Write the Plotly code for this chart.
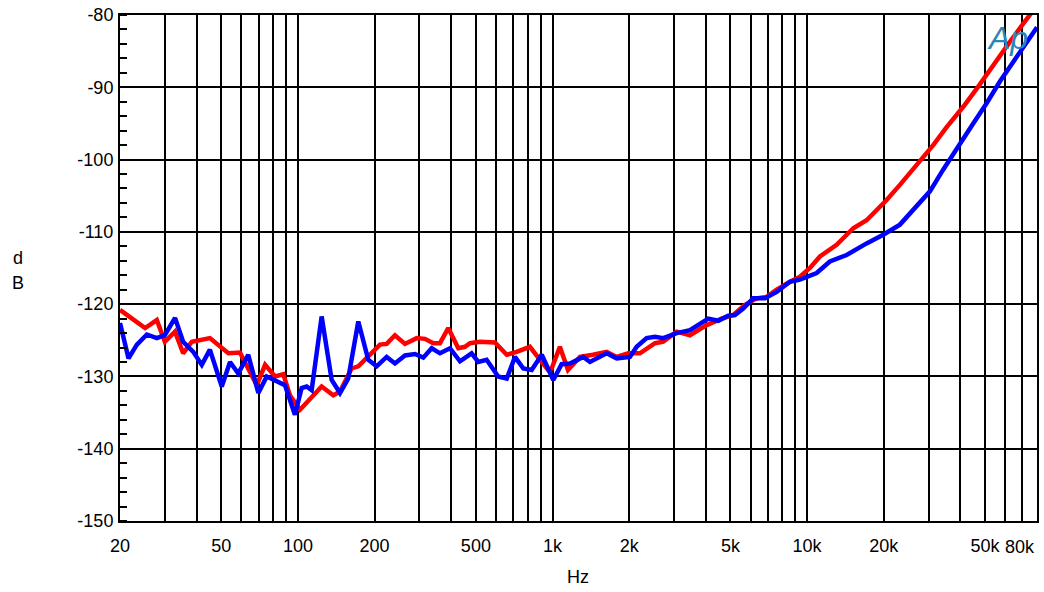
import numpy as np
import plotly.graph_objects as go

# Red trace (Hz, dB)
red_hz = [20, 25.1, 27.9, 30.0, 32.9, 35.4, 38.3, 45.1, 53.3, 59.2, 68.9, 74.3, 81.3, 87.6, 93.0,
          101.9, 123.9, 137.7, 146.3, 162.4, 172.6, 191.8, 210, 223.1, 240.5, 263.3, 292.7, 315.5,
          340.2, 361.4, 389.5, 426.5, 453, 474, 519, 594, 661, 723, 815, 893, 962, 992, 1069, 1150,
          1282, 1441, 1632, 1786, 1984, 2205, 2526, 2723, 3073, 3466, 4030, 4617, 5127, 5700, 6336,
          6934, 7594, 8563, 9374, 10260, 11230, 13060, 15180, 17130, 20530, 23150, 26930, 31290,
          35330, 41060, 47010, 53850, 62620, 70620, 79940]
red_db = [-120.8, -123.3, -122.2, -125.2, -123.8, -126.8, -125.2, -124.7, -126.8, -126.7, -131.2,
          -128.4, -130.0, -129.7, -132.6,
          -134.6, -131.4, -132.6, -132.1, -128.9, -128.6, -127.0, -125.6, -125.5, -124.3, -125.5,
          -124.7, -124.8, -125.4, -125.4, -123.3, -126.1, -125.9, -125.4, -125.2, -125.3, -127.0,
          -126.6, -125.9, -127.7, -129.1, -128.9, -125.9, -129.1,
          -127.3, -127.0, -126.6, -127.3, -126.8, -126.8, -125.4, -125.2, -123.8, -124.3, -122.9,
          -122.0, -121.5, -120.1, -119.2, -119.0, -118.0, -116.9, -116.2, -115.0, -113.4, -111.8,
          -109.5, -108.4, -105.6, -103.5, -100.7, -98.0, -95.5, -92.7, -89.9, -86.9, -83.7, -81.2,
          -78.7]

# Blue trace (Hz, dB)
blue_hz = [20, 21.6, 23.3, 25.5, 27.9, 30.0, 32.9, 35.4, 38.8, 41.9, 45.1, 50.2, 54.1, 58.3, 63.8,
           69.9, 75.4, 81.3, 88.9, 97.3, 103.4, 108.2, 113.2, 123.9, 135.7, 146.3, 157.6, 172.6,
           188.9, 203.8, 223.1, 240.5, 263.3, 288.2, 310.7, 335.3, 361.4, 395.6, 433, 481, 511, 551,
           612, 661, 712, 768, 828, 907, 1007, 1086, 1171, 1320, 1403, 1632, 1786, 2014, 2140, 2343,
           2526, 2723, 3073, 3466, 4090, 4477, 4900, 5207, 5613, 6143, 6830, 7594, 8563, 9374, 10900,
           12290, 14300, 17130, 19910, 23150, 26120, 30370, 34240, 39840, 44930, 50720, 57190, 64500,
           72830, 80000]
blue_db = [-122.6, -127.5, -125.6, -124.2, -124.7, -124.3, -121.9, -125.2, -126.6, -128.4, -126.3,
           -131.4, -128.0, -129.6, -127.0, -132.3, -130.0, -130.5, -131.2, -135.3, -131.6, -131.4,
           -131.9, -121.7, -130.5, -132.3, -130.3, -122.4, -127.7, -128.6, -127.3, -128.2, -127.1,
           -126.9, -127.4, -126.1, -126.8, -126.1, -127.9, -126.8, -128.0, -127.7, -130.0, -130.3,
           -127.3, -128.9, -129.1, -127.0, -130.5, -128.3, -128.2, -127.3, -128.0, -126.8, -127.5,
           -127.3, -125.9, -124.7, -124.5, -124.7, -124.0, -123.6, -122.0, -122.3, -121.6, -121.5,
           -120.6, -119.2, -119.2, -118.3, -116.9, -116.6, -115.7, -114.1, -113.2, -111.6, -110.4,
           -109.0, -107.0, -104.4, -101.4, -97.7, -95.0, -92.2, -89.2, -86.5, -83.9, -81.7]

# Grid lines every 1..9 per decade, labelled ones listed separately
x_grid = [20, 30, 40, 50, 60, 70, 80, 90, 100, 200, 300, 400, 500, 600, 700, 800, 900,
          1000, 2000, 3000, 4000, 5000, 6000, 7000, 8000, 9000,
          10000, 20000, 30000, 40000, 50000, 60000, 70000, 80000]
x_labels = {20: "20", 50: "50", 100: "100", 200: "200", 500: "500", 1000: "1k", 2000: "2k",
            5000: "5k", 10000: "10k", 20000: "20k", 50000: "50k"}
y_ticks = [-150, -140, -130, -120, -110, -100, -90, -80]

fig = go.Figure()
fig.add_trace(go.Scatter(x=red_hz, y=red_db, mode="lines",
                         line=dict(color="#ff0000", width=4.5), showlegend=False))
fig.add_trace(go.Scatter(x=blue_hz, y=blue_db, mode="lines",
                         line=dict(color="#0000ff", width=4.5), showlegend=False))

font_main = dict(family="Liberation Sans, Arial, sans-serif", size=18, color="black")

fig.update_layout(
    width=1044, height=592,
    plot_bgcolor="white", paper_bgcolor="white",
    margin=dict(l=120, r=7, t=15, b=71),
    font=font_main,
    showlegend=False,
)
fig.update_xaxes(
    type="log",
    range=[np.log10(20), np.log10(80000)],
    tickvals=x_grid,
    ticktext=[x_labels.get(v, "") for v in x_grid],
    showgrid=True, gridcolor="black", gridwidth=2,
    showline=True, linecolor="black", linewidth=2, mirror=True,
    ticks="", ticklabelstandoff=7,
    zeroline=False, automargin=False,
)
fig.update_yaxes(
    range=[-150, -80],
    tickvals=y_ticks,
    ticktext=[str(v) for v in y_ticks],
    showgrid=True, gridcolor="black", gridwidth=2,
    showline=True, linecolor="black", linewidth=2, mirror=True,
    ticks="", ticklabelstandoff=1,
    minor=dict(dtick=2, ticks="inside", ticklen=7, tickcolor="black", tickwidth=2, showgrid=False),
    zeroline=False, automargin=False,
)

# axis captions and the "80k" label squeezed at the right edge
fig.add_annotation(text="80k", xref="paper", yref="paper", x=1.0, xanchor="right", y=0,
                   yanchor="top", yshift=-14, showarrow=False, font=font_main)
fig.add_annotation(text="d", xref="paper", yref="paper", x=-0.111, y=0.52,
                   xanchor="center", yanchor="middle", showarrow=False, font=font_main)
fig.add_annotation(text="B", xref="paper", yref="paper", x=-0.111, y=0.47,
                   xanchor="center", yanchor="middle", showarrow=False, font=font_main)
fig.add_annotation(text="Hz", xref="paper", yref="paper", x=0.499, y=0, yanchor="top",
                   yshift=-44, showarrow=False, font=font_main)
# Ap logo
fig.add_annotation(text="<i>Ap</i>", xref="paper", yref="paper", x=0.968, y=0.955,
                   xanchor="center", yanchor="middle", showarrow=False,
                   font=dict(family="Liberation Sans, Arial", size=32, color="#2a86b8"))

fig.write_html("out.html", config={"displayModeBar": False},
               post_script="document.body.style.margin='0';")
